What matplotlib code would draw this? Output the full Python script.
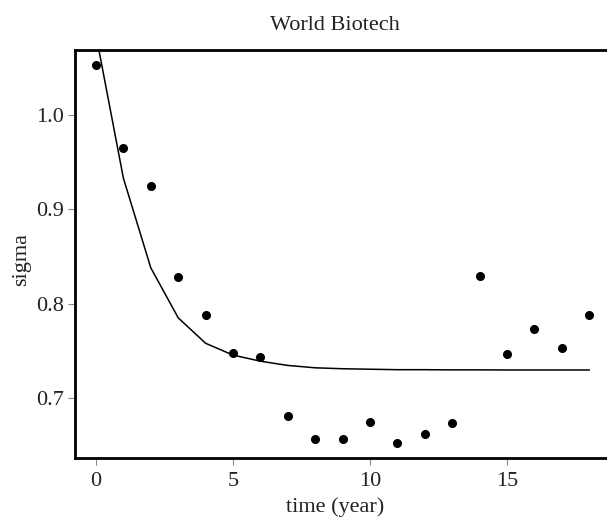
import matplotlib
matplotlib.use("Agg")
import matplotlib.pyplot as plt

years = list(range(19))
sigma_obs = [1.053, 0.965, 0.925, 0.828, 0.788, 0.748, 0.743, 0.681, 0.657, 0.657,
             0.6745, 0.652, 0.662, 0.673, 0.829, 0.747, 0.7735, 0.7535, 0.788]
sigma_fit = [1.085, 0.933, 0.838, 0.785, 0.758, 0.7455, 0.739, 0.7345, 0.732, 0.731,
             0.7305, 0.730, 0.730, 0.7298, 0.7298, 0.7297, 0.7297, 0.7297, 0.7297]
xticks = [0, 5, 10, 15]
yticks = [0.7, 0.8, 0.9, 1.0]

plt.rcParams['font.family'] = ['Liberation Serif', 'DejaVu Serif']
FS = 16
W, H = 607, 518
fig = plt.figure(figsize=(W / 100, H / 100), dpi=100)
left, right, top, bottom = 75, 612, 50, 458
ax = fig.add_axes([left / W, 1 - bottom / H, (right - left) / W, (bottom - top) / H])

ax.plot(years, sigma_fit, color='black', lw=1.1, zorder=2)
ax.plot(years, sigma_obs, 'o', color='black', ms=5.5, zorder=3)

ppu = 27.4
x0 = -(96 - left) / ppu
ax.set_xlim(x0, x0 + (right - left) / ppu)
ax.set_ylim(0.7 - (458 - 398) / 943, 1.0 + (115 - 50) / 943)
ax.set_xticks(xticks)
ax.set_xticklabels([str(t) for t in xticks])
ax.set_yticks(yticks)
ax.set_yticklabels([f"{t:.1f}" for t in yticks])

for s in ['left', 'top', 'bottom']:
    ax.spines[s].set_linewidth(2.0)
    ax.spines[s].set_color('black')
ax.spines['right'].set_visible(False)
ax.tick_params(axis='both', direction='out', length=5, width=0.8, color='#888888',
               labelsize=FS, labelcolor='#222222')
ax.tick_params(axis='x', pad=5)
ax.tick_params(axis='y', pad=3)

ax.set_xlabel('time (year)', fontsize=FS, color='#222222')
ax.xaxis.set_label_coords((335 - left) / (right - left), -(497 - bottom) / (bottom - top))
ax.set_ylabel('sigma', fontsize=FS, color='#222222')
ax.yaxis.set_label_coords(-(left - 31) / (right - left), (bottom - 260) / (bottom - top))
fig.text(335 / W, 1 - 25 / H, 'World Biotech', ha='center', va='center', fontsize=FS, color='#222222')

fig.savefig('out.png', dpi=100)
